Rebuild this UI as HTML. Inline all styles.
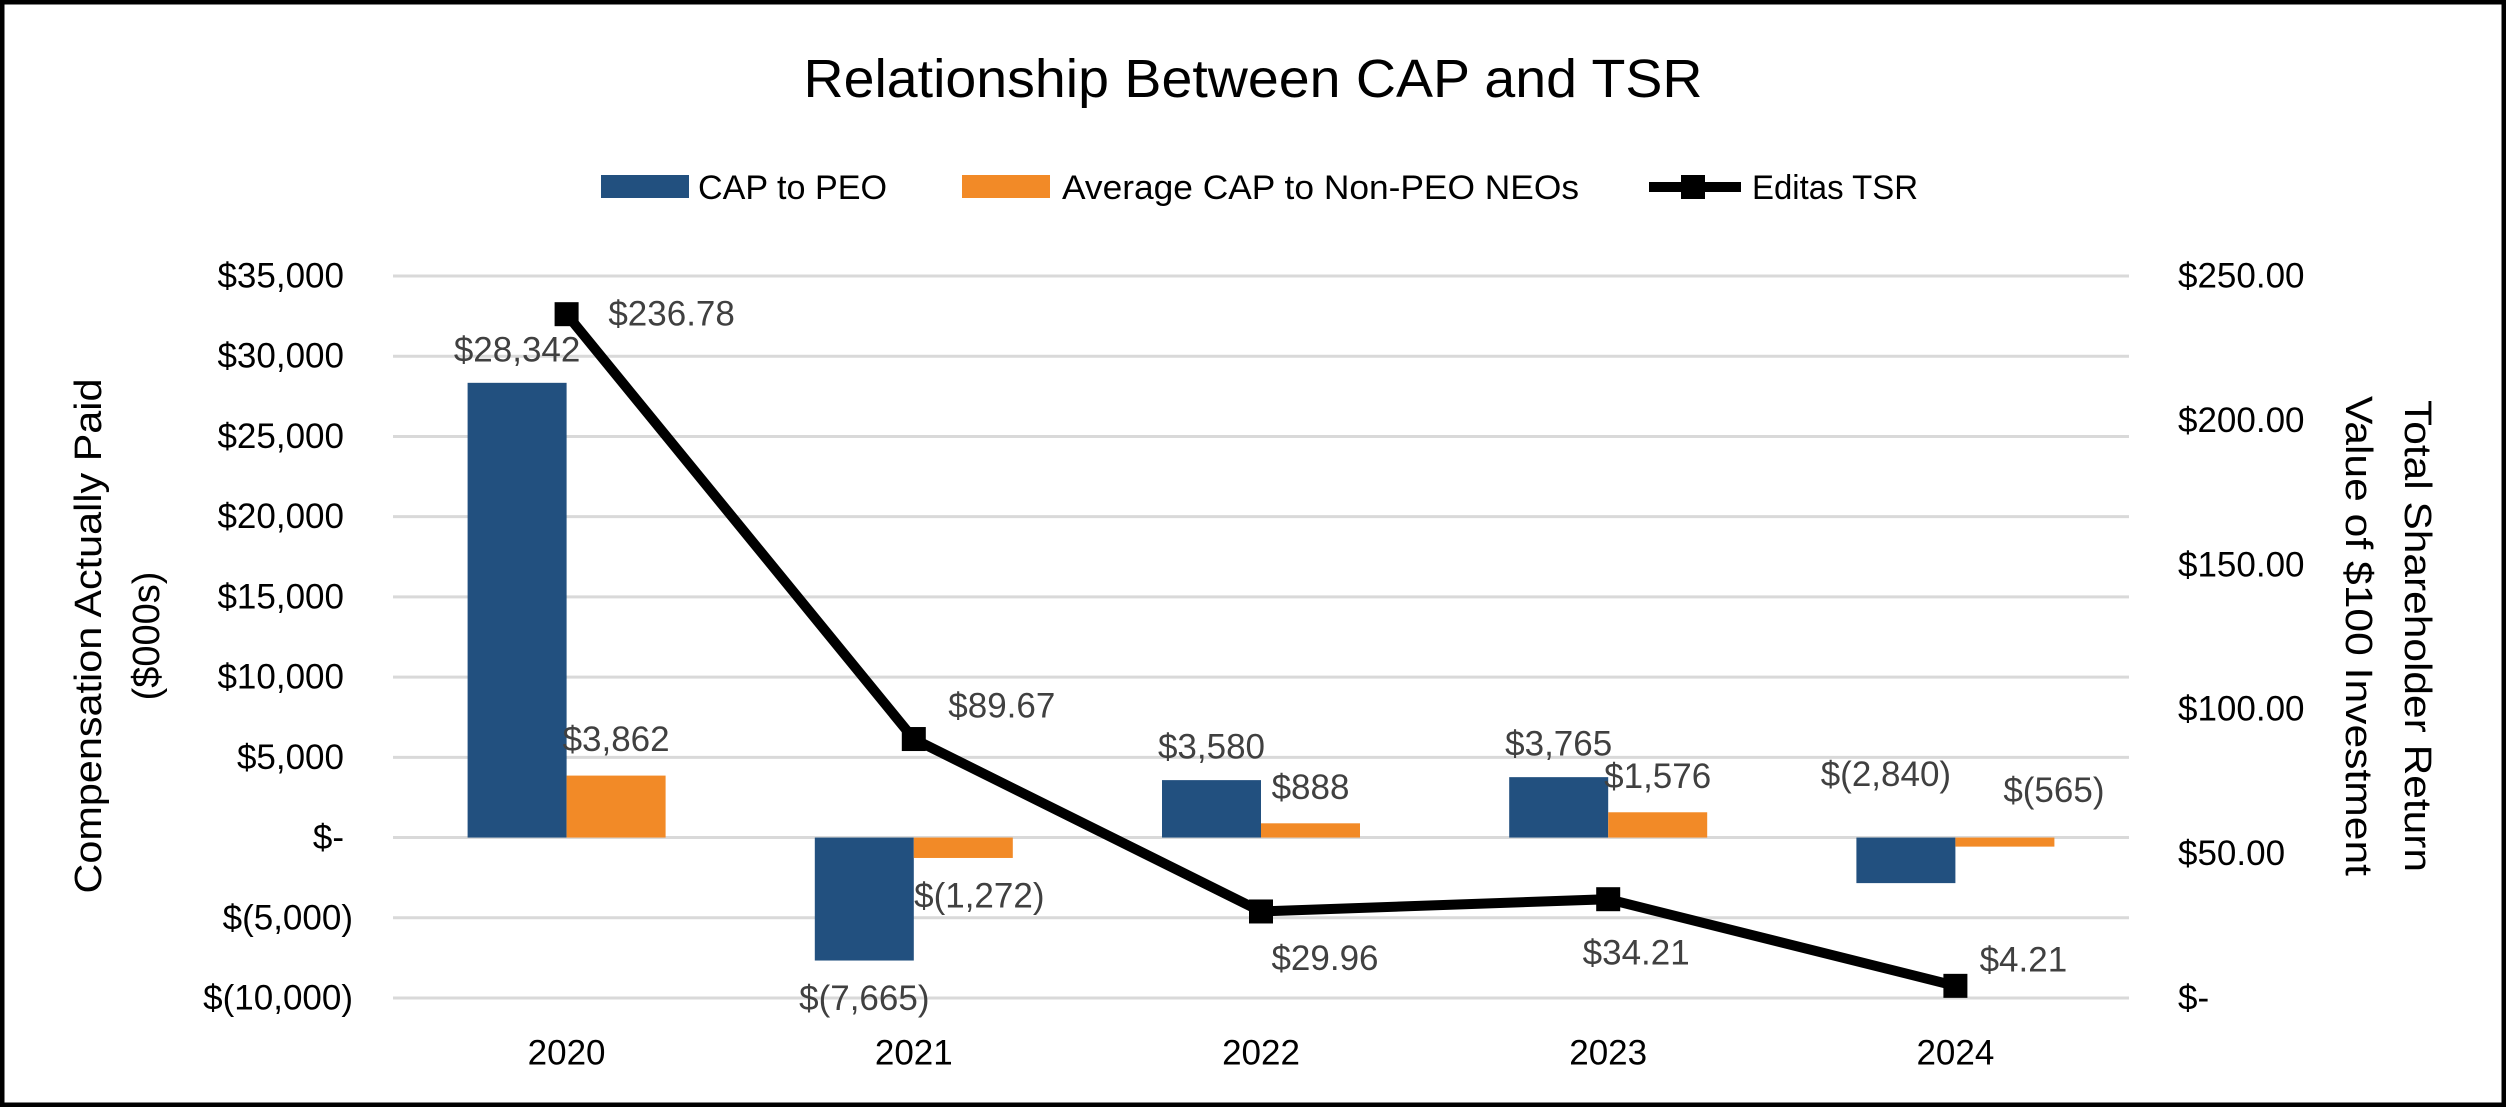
<!DOCTYPE html>
<html><head><meta charset="utf-8"><style>
html,body{margin:0;padding:0;background:#fff}
svg{display:block;font-family:"Liberation Sans",sans-serif}
</style></head><body>
<svg id="chart" width="2506" height="1107" viewBox="0 0 2506 1107">
<rect x="2" y="2" width="2502" height="1103" fill="#fff" stroke="#000" stroke-width="5"/>
<text x="1253" y="97" font-size="54" text-anchor="middle" textLength="899" lengthAdjust="spacingAndGlyphs">Relationship Between CAP and TSR</text>
<g>
<rect x="601" y="175" width="88" height="23" fill="#22507f"/>
<text x="698" y="199" font-size="34" textLength="189" lengthAdjust="spacingAndGlyphs">CAP to PEO</text>
<rect x="962" y="175" width="88" height="23" fill="#f28a27"/>
<text x="1062" y="199" font-size="34" textLength="517" lengthAdjust="spacingAndGlyphs">Average CAP to Non-PEO NEOs</text>
<line x1="1649" y1="187" x2="1741" y2="187" stroke="#000" stroke-width="10"/>
<rect x="1681" y="175" width="24" height="24" fill="#000"/>
<text x="1752" y="199" font-size="34" textLength="166" lengthAdjust="spacingAndGlyphs">Editas TSR</text>
</g>
<text transform="translate(89,636) rotate(-90)" font-size="38" text-anchor="middle" dominant-baseline="central" textLength="515" lengthAdjust="spacingAndGlyphs">Compensation Actually Paid</text>
<text transform="translate(147,636) rotate(-90)" font-size="38" text-anchor="middle" dominant-baseline="central">($000s)</text>
<text transform="translate(2417,636) rotate(90)" font-size="38" text-anchor="middle" dominant-baseline="central" textLength="472" lengthAdjust="spacingAndGlyphs">Total Shareholder Return</text>
<text transform="translate(2358,636) rotate(90)" font-size="38" text-anchor="middle" dominant-baseline="central" textLength="480" lengthAdjust="spacingAndGlyphs">Value of $100 Investment</text>
<g id="grid"></g><g id="bars"></g><g id="line"></g><g id="labels"></g>
</svg>
<script>
const categories = ["2020","2021","2022","2023","2024"];
const capPeo = [28342, -7665, 3580, 3765, -2840];
const capNeo = [3862, -1272, 888, 1576, -565];
const tsr = [236.78, 89.67, 29.96, 34.21, 4.21];
const capPeoLabels = ["$28,342","$(7,665)","$3,580","$3,765","$(2,840)"];
const capNeoLabels = ["$3,862","$(1,272)","$888","$1,576","$(565)"];
const tsrLabels = ["$236.78","$89.67","$29.96","$34.21","$4.21"];
const leftTicks = [35000,30000,25000,20000,15000,10000,5000,0,-5000,-10000];
const leftTickLabels = ["$35,000","$30,000","$25,000","$20,000","$15,000","$10,000","$5,000","$-","$(5,000)","$(10,000)"];
const rightTicks = [250,200,150,100,50,0];
const rightTickLabels = ["$250.00","$200.00","$150.00","$100.00","$50.00","$-"];

const NS="http://www.w3.org/2000/svg";
const plotL=393, plotR=2129, yTop=276, yBot=998;
const yL=v=>yBot-(v+10000)/45000*(yBot-yTop);
const yR=v=>yBot-v/250*(yBot-yTop);
const step=(plotR-plotL)/categories.length;
const xC=i=>plotL+step*(i+0.5);
const bw=99;
function mk(tag,attrs,parent,txt){const e=document.createElementNS(NS,tag);for(const k in attrs)e.setAttribute(k,attrs[k]);if(txt!==undefined)e.textContent=txt;document.getElementById(parent).appendChild(e);return e;}
leftTicks.forEach((v,i)=>{
  const g=mk('line',{x1:plotL,x2:plotR,y1:yL(v),y2:yL(v),stroke:'#d9d9d9','stroke-width':3},'grid');
  
  
  const t=mk('text',{x:v<0?353:344,y:yL(v),'font-size':35,'text-anchor':'end','dominant-baseline':'central',fill:'#000'},'grid',leftTickLabels[i]);
  
  
});
rightTicks.forEach((v,i)=>{
  const t=mk('text',{x:2178,y:yR(v),'font-size':35,'dominant-baseline':'central',fill:'#000'},'grid',rightTickLabels[i]);
  
  
});
categories.forEach((c,i)=>{
  const t=mk('text',{x:xC(i),y:1053,'font-size':35,'text-anchor':'middle','dominant-baseline':'central'},'labels',c);
  
  
  const z=yL(0);
  const y1=yL(capPeo[i]);
  const b1=mk('rect',{x:xC(i)-bw,y:Math.min(y1,z),width:bw,height:Math.abs(z-y1),fill:'#22507f'},'bars');
  
  
  const y2=yL(capNeo[i]);
  const b2=mk('rect',{x:xC(i),y:Math.min(y2,z),width:bw,height:Math.abs(z-y2),fill:'#f28a27'},'bars');
  
  
  const below1 = capPeo[i]<0 && i!==4;
  const above0 = capPeo[i]<0 && !below1;
  const ly1 = below1 ? y1+38 : (above0 ? z-63 : y1-33);
  const l1=mk('text',{x:xC(i)-bw/2-(above0?20:0),y:ly1,'font-size':35,'text-anchor':'middle','dominant-baseline':'central',fill:'#404040'},'labels',capPeoLabels[i]);
  
  
  const below2 = capNeo[i]<0 && i!==4;
  const above2 = capNeo[i]<0 && !below2;
  const ly2 = below2 ? y2+38 : (above2 ? z-47 : y2-36);
  const l2=mk('text',{x:xC(i)+bw/2+(below2?16:0)+(above2?49:0),y:ly2,'font-size':35,'text-anchor':'middle','dominant-baseline':'central',fill:'#404040'},'labels',capNeoLabels[i]);
  
  
});
const pts=tsr.map((v,i)=>xC(i)+','+yR(v)).join(' ');
const pl=mk('polyline',{points:pts,fill:'none',stroke:'#000','stroke-width':10,'stroke-linejoin':'miter'},'line');


const tsrOff=[[105,0],[88,-33],[64,47],[28,54],[68,-26]];
tsr.forEach((v,i)=>{
  const m=mk('rect',{x:xC(i)-12,y:yR(v)-12,width:24,height:24,fill:'#000'},'line');
  
  
  const t=mk('text',{x:xC(i)+tsrOff[i][0],y:yR(v)+tsrOff[i][1],'font-size':35,'text-anchor':'middle','dominant-baseline':'central',fill:'#404040'},'labels',tsrLabels[i]);
  
  
});
</script>
</body></html>
